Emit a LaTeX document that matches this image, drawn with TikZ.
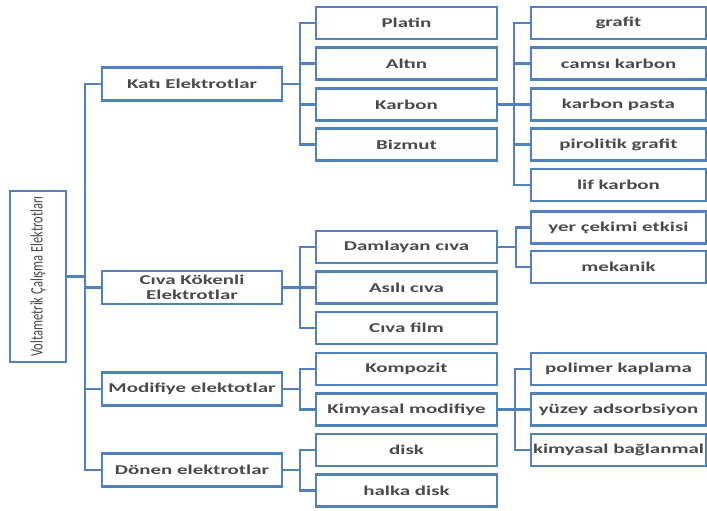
\documentclass[tikz,border=0pt]{standalone}
\usepackage{fontspec}
\usepackage{graphicx}
\setmainfont{Carlito}[FakeStretch=1.55]
\newfontfamily\rootfont{Carlito}
\usetikzlibrary{positioning}
\definecolor{VEBlue}{HTML}{4F81BD}
\definecolor{VEInk}{HTML}{4A4A4A}
\tikzset{
  box/.style={draw=VEBlue,line width=2.1pt,fill=white,text=VEInk,align=center,
              font=\fontsize{13.5}{15}\selectfont\bfseries,inner sep=0pt},
  boxone/.style={box,minimum width=180pt,minimum height=33pt},
  boxtwo/.style={box,minimum width=181pt,minimum height=32pt},
  boxthree/.style={box,minimum width=175pt,minimum height=32pt},
  tree/.style={VEBlue,line width=2.1pt},
}

\begin{document}
\begin{tikzpicture}[x=1pt,y=-1pt]
  \useasboundingbox (0,0) rectangle (707,511);
  % root
  \node[box,minimum width=56pt,minimum height=171pt] (root) at (38,276.5)
    {\rotatebox{90}{\rootfont\mdseries\fontsize{12.5}{13}\selectfont\scalebox{1}[1.4]{Voltametrik Çalışma Elektrotları}}};

  % first level
  \node[boxone] (kati) at (192,84) {Katı Elektrotlar};
  \node[boxone] (civa) at (192,287.5) {Cıva Kökenli\\Elektrotlar};
  \node[boxone] (modif) at (192,389) {Modifiye elektotlar};
  \node[boxone] (donen) at (192,470) {Dönen elektrotlar};

  % second level
  \node[boxtwo] (platin) at (406.5,23) {Platin};
  \node[boxtwo] (altin) at (406.5,63.5) {Altın};
  \node[boxtwo] (karbon) at (406.5,104.5) {Karbon};
  \node[boxtwo] (bizmut) at (406.5,144.5) {Bizmut};
  \node[boxtwo] (damla) at (406.5,247) {Damlayan cıva};
  \node[boxtwo] (asili) at (406.5,287.5) {Asılı cıva};
  \node[boxtwo] (film) at (406.5,328) {Cıva film};
  \node[boxtwo] (kompozit) at (406.5,369) {Kompozit};
  \node[boxtwo] (kimmod) at (406.5,409.5) {Kimyasal modifiye};
  \node[boxtwo] (disk) at (406.5,450) {disk};
  \node[boxtwo] (halka) at (406.5,490.5) {halka disk};

  % third level
  \node[boxthree] (grafit) at (618.5,23) {grafit};
  \node[boxthree] (camsi) at (618.5,63.5) {camsı karbon};
  \node[boxthree] (pasta) at (618.5,104.5) {karbon pasta};
  \node[boxthree] (piro) at (618.5,144.5) {pirolitik grafit};
  \node[boxthree] (lif) at (618.5,185) {lif karbon};
  \node[boxthree] (yer) at (618.5,227.5) {yer çekimi etkisi};
  \node[boxthree] (mekanik) at (618.5,267) {mekanik};
  \node[boxthree] (polimer) at (618.5,369) {polimer kaplama};
  \node[boxthree] (yuzey) at (618.5,409.5) {yüzey adsorbsiyon};
  \node[boxthree] (bag) at (618.5,450) {kimyasal bağlanmal};

  % connectors
  \foreach \c in {kati,civa,modif,donen}
    \draw[tree] (root.east) -- ++(18,0) |- (\c.west);
  \foreach \c in {platin,altin,karbon,bizmut}
    \draw[tree] (kati.east) -- ++(17,0) |- (\c.west);
  \foreach \c in {damla,asili,film}
    \draw[tree] (civa.east) -- ++(17,0) |- (\c.west);
  \foreach \c in {kompozit,kimmod}
    \draw[tree] (modif.east) -- ++(17,0) |- (\c.west);
  \foreach \c in {disk,halka}
    \draw[tree] (donen.east) -- ++(17,0) |- (\c.west);
  \foreach \c in {grafit,camsi,pasta,piro,lif}
    \draw[tree] (karbon.east) -- ++(16,0) |- (\c.west);
  \foreach \c in {yer,mekanik}
    \draw[tree] (damla.east) -- ++(18,0) |- (\c.west);
  \foreach \c in {polimer,yuzey,bag}
    \draw[tree] (kimmod.east) -- ++(17,0) |- (\c.west);
\end{tikzpicture}
\end{document}
